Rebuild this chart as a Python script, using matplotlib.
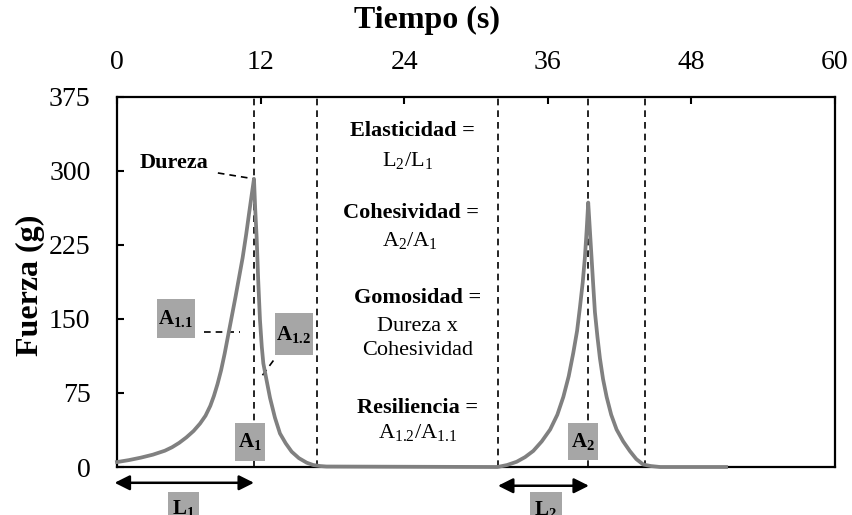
import matplotlib
matplotlib.use('Agg')
import matplotlib.pyplot as plt
from matplotlib.patches import Rectangle

plt.rcParams['font.family'] = ['Liberation Serif', 'DejaVu Serif']
plt.rcParams['mathtext.fontset'] = 'custom'
plt.rcParams['mathtext.rm'] = 'Liberation Serif'
plt.rcParams['mathtext.bf'] = 'Liberation Serif:bold'
plt.rcParams['mathtext.it'] = 'Liberation Serif:italic'

# curva fuerza-tiempo
tiempo = [0, 1, 2, 3, 4, 4.6, 5.2, 5.8, 6.4, 6.94, 7.4, 7.8, 8.1, 8.4, 8.7, 9.0, 9.3,
          9.6, 9.9, 10.2, 10.5, 10.8, 11.05, 11.26, 11.45,
          11.55, 11.67, 11.8, 11.95, 12.1, 12.23, 12.5, 12.79, 13.2, 13.62, 14.1, 14.6,
          15.2, 15.85, 16.4, 16.96, 17.5, 31.8,
          32.6, 33.4, 34.1, 34.79, 35.5, 36.2, 36.8, 37.3, 37.75, 38.13, 38.45, 38.69,
          38.92, 39.1, 39.25, 39.38,
          39.52, 39.66, 39.8, 39.94, 40.15, 40.36, 40.62, 40.92, 41.3, 41.75, 42.3, 42.87,
          43.4, 43.98, 44.6, 45.4, 50.9]
fuerza = [5, 7, 9.5, 12.5, 16.5, 20, 24.5, 30, 36.5, 44, 52, 62, 72, 84, 98, 115, 134,
          153, 172, 192, 212, 236, 258, 276, 292,
          262, 233, 190, 149, 122, 105, 88, 70, 50, 34, 24, 15.5,
          9, 4.4, 2, 1, 0.5, 0,
          2, 5.3, 10, 16.3, 26, 38, 53, 71, 92, 115.5, 138, 162,
          187, 212, 240, 268,
          240, 212, 184, 157, 132, 110, 89, 71, 53, 38, 26, 16,
          8, 2.5, 1, 0, 0]

lineas_v = [11.45, 16.75, 31.85, 39.4, 44.1]

x_ticks = [0, 12, 24, 36, 48, 60]
y_ticks = [0, 75, 150, 225, 300, 375]

# textos de las formulas
formulas_x = [24.7, 24.3, 24.6, 24.5, 25.1, 25.1, 25.1, 25.1, 25.1]
formulas_y = [341, 311, 257, 230, 171, 142, 118, 60, 35]
formulas_txt = ['Elasticidad =', r'$\mathrm{L_2/L_1}$', 'Cohesividad =', r'$\mathrm{A_2/A_1}$',
                'Gomosidad =', 'Dureza x', 'Cohesividad', 'Resiliencia =', r'$\mathrm{A_{1.2}/A_{1.1}}$']
formulas_bold = [True, False, True, False, True, False, False, True, False]

# etiquetas grises: izquierda, derecha, abajo, arriba
cajas_x0 = [3.31, 13.2, 9.86, 37.71, 4.29, 34.51]
cajas_x1 = [6.52, 16.35, 12.37, 40.22, 6.87, 37.16]
cajas_y0 = [130.4, 113.5, 6.4, 7.1, -60, -60]
cajas_y1 = [170, 155.8, 44.3, 44.3, -25, -25.6]
cajas_txt = [r'$\mathbf{A_{1.1}}$', r'$\mathbf{A_{1.2}}$', r'$\mathbf{A_1}$', r'$\mathbf{A_2}$',
             r'$\mathbf{L_1}$', r'$\mathbf{L_2}$']

fig = plt.figure(figsize=(8.52, 5.15), dpi=100)
ax = fig.add_axes([0.1373, 0.0932, 0.8427, 0.7185])

ax.plot(tiempo, fuerza, color='#808080', lw=2.7, zorder=5, clip_on=False,
        solid_joinstyle='round')

for xv in lineas_v:
    ax.axvline(xv, color='black', lw=1.2, ls=(0, (4, 3)), zorder=3)

ax.set_xlim(0, 60)
ax.set_ylim(0, 375)
ax.xaxis.tick_top()
ax.set_xticks(x_ticks)
ax.set_yticks(y_ticks)
ax.tick_params(axis='x', direction='in', length=5, width=1.5, labelsize=20, pad=16)
ax.tick_params(axis='y', direction='in', length=5, width=1.5, labelsize=20, pad=19)
for s in ax.spines.values():
    s.set_linewidth(1.6)

fig.text(427 / 852, 1 - 20 / 515, 'Tiempo (s)', ha='center', va='center',
         fontsize=23, fontweight='bold')
fig.text(30 / 852, 1 - 285 / 515, 'Fuerza (g)', ha='center', va='center',
         fontsize=23, fontweight='bold', rotation=90)

# Dureza
ax.text(4.76, 308, 'Dureza', ha='center', va='center', fontsize=16, fontweight='bold')
ax.plot([8.43, 11.45], [298, 292], color='black', lw=1.2, ls=(0, (4, 3)))
# lineas guia
ax.plot([7.27, 10.28], [137, 137], color='black', lw=1.2, ls=(0, (4, 3)))
ax.plot([12.16, 13.2], [93, 110], color='black', lw=1.2, ls=(0, (4, 3)))

for x, y, t, b in zip(formulas_x, formulas_y, formulas_txt, formulas_bold):
    ax.text(x, y, t, ha='center', va='center', fontsize=16,
            fontweight='bold' if b else 'normal')

for x0, x1, y0, y1, t in zip(cajas_x0, cajas_x1, cajas_y0, cajas_y1, cajas_txt):
    ax.add_patch(Rectangle((x0, y0), x1 - x0, y1 - y0, fc='#a6a6a6', ec='none',
                           clip_on=False, zorder=6))
    yc = (y0 + y1) / 2 if y0 > -50 else y1 - 17
    ax.text((x0 + x1) / 2, yc, t, ha='center', va='center', fontsize=15,
            clip_on=False, zorder=7)

# flechas L1 y L2
ax.annotate('', xy=(-0.2, -16), xytext=(11.45, -16), annotation_clip=False,
            arrowprops=dict(arrowstyle='<|-|>,head_length=0.9,head_width=0.45',
                            color='black', lw=1.8, shrinkA=0, shrinkB=0))
ax.annotate('', xy=(31.84, -19), xytext=(39.44, -19), annotation_clip=False,
            arrowprops=dict(arrowstyle='<|-|>,head_length=0.9,head_width=0.45',
                            color='black', lw=1.8, shrinkA=0, shrinkB=0))

fig.savefig('out.png', dpi=100)
